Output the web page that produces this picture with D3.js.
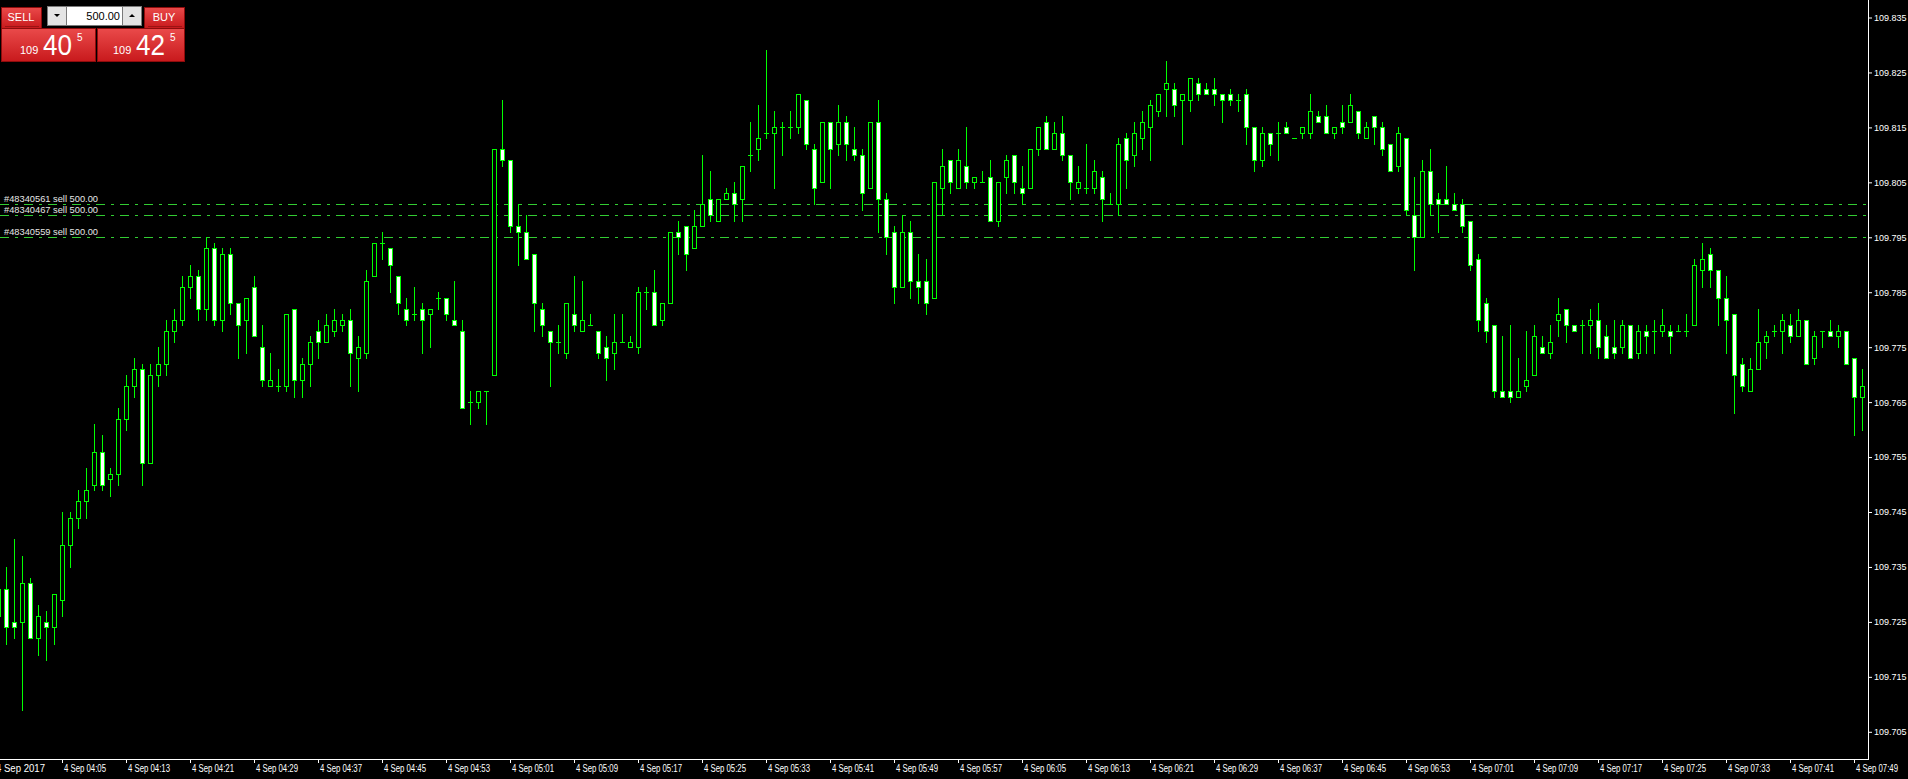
<!DOCTYPE html>
<html>
<head>
<meta charset="utf-8">
<script src="https://cdn.jsdelivr.net/npm/d3@7"></script>
<style>
  html, body { margin: 0; padding: 0; background: #000; overflow: hidden; }
  svg { display: block; }
  text { font-family: "Liberation Sans", Arial, sans-serif; }
</style>
</head>
<body>
<svg id="chart" width="1908" height="779"></svg>
<script>
// USDJPY M1, 4 Sep 2017, first bar 03:57
var opens = [
  109.726,109.731,109.725,109.725,109.732,109.722,109.725,109.724,109.729,109.739,
  109.744,109.747,109.750,109.756,109.751,109.752,109.762,109.768,109.771,109.754,
  109.770,109.772,109.778,109.780,109.786,109.788,109.782,109.793,109.780,109.792,
  109.783,109.780,109.786,109.775,109.768,109.768,109.768,109.782,109.769,109.772,
  109.778,109.776,109.778,109.779,109.780,109.773,109.774,109.788,109.794,109.793,
  109.788,109.782,109.781,109.782,109.781,109.784,109.784,109.780,109.778,109.765,
  109.765,109.767,109.770,109.811,109.809,109.797,109.796,109.792,109.782,109.778,
  109.776,109.774,109.781,109.778,109.779,109.778,109.775,109.774,109.776,109.775,
  109.775,109.785,109.785,109.780,109.783,109.796,109.797,109.793,109.797,109.802,
  109.798,109.802,109.803,109.802,109.810,109.811,109.814,109.814,109.815,109.815,
  109.815,109.820,109.811,109.805,109.816,109.812,109.816,109.811,109.810,109.804,
  109.816,109.802,109.796,109.786,109.796,109.787,109.787,109.784,109.804,109.809,
  109.804,109.808,109.805,109.805,109.806,109.798,109.806,109.810,109.804,109.804,
  109.811,109.816,109.811,109.814,109.810,109.804,109.804,109.804,109.806,109.801,
  109.801,109.813,109.810,109.813,109.815,109.818,109.822,109.822,109.820,109.820,
  109.823,109.822,109.822,109.821,109.821,109.820,109.821,109.815,109.809,109.814,
  109.814,109.815,109.813,109.814,109.814,109.817,109.817,109.814,109.816,109.816,
  109.818,109.813,109.817,109.815,109.812,109.808,109.813,109.799,109.795,109.807,
  109.802,109.802,109.801,109.801,109.798,109.791,109.783,109.779,109.767,109.767,
  109.766,109.768,109.770,109.775,109.774,109.780,109.782,109.779,109.779,109.779,
  109.780,109.777,109.775,109.775,109.779,109.774,109.778,109.778,109.778,109.778,
  109.778,109.778,109.779,109.789,109.792,109.789,109.784,109.781,109.772,109.767,
  109.771,109.776,109.778,109.778,109.779,109.777,109.780,109.773,109.778,109.778,
  109.777,109.778,109.773,109.766
];
var highs = [
  109.733,109.735,109.740,109.737,109.733,109.728,109.727,109.730,109.745,109.745,
  109.749,109.753,109.761,109.759,109.753,109.764,109.770,109.773,109.772,109.772,
  109.775,109.780,109.782,109.788,109.790,109.789,109.795,109.794,109.793,109.793,
  109.783,109.784,109.788,109.779,109.774,109.771,109.781,109.782,109.773,109.777,
  109.780,109.781,109.782,109.781,109.782,109.777,109.789,109.794,109.796,109.793,
  109.788,109.784,109.786,109.783,109.782,109.785,109.784,109.787,109.780,109.767,
  109.767,109.767,109.811,109.820,109.809,109.801,109.799,109.792,109.783,109.778,
  109.779,109.783,109.788,109.787,109.781,109.778,109.777,109.781,109.781,109.777,
  109.786,109.786,109.789,109.783,109.796,109.798,109.797,109.800,109.810,109.807,
  109.802,109.804,109.805,109.808,109.816,109.819,109.829,109.818,109.816,109.818,
  109.821,109.820,109.812,109.816,109.816,109.819,109.817,109.815,109.811,109.816,
  109.820,109.803,109.797,109.799,109.798,109.792,109.791,109.805,109.811,109.809,
  109.811,109.815,109.806,109.807,109.809,109.805,109.810,109.810,109.808,109.811,
  109.815,109.817,109.816,109.817,109.810,109.808,109.812,109.809,109.807,109.803,
  109.813,109.814,109.816,109.818,109.820,109.821,109.827,109.823,109.821,109.824,
  109.824,109.823,109.824,109.821,109.822,109.821,109.822,109.815,109.815,109.814,
  109.816,109.816,109.813,109.815,109.821,109.818,109.819,109.815,109.819,109.821,
  109.818,109.816,109.817,109.816,109.812,109.815,109.813,109.806,109.809,109.811,
  109.803,109.808,109.803,109.802,109.798,109.792,109.784,109.779,109.777,109.779,
  109.773,109.778,109.779,109.777,109.779,109.784,109.782,109.779,109.780,109.782,
  109.783,109.779,109.780,109.780,109.779,109.779,109.779,109.780,109.782,109.779,
  109.779,109.781,109.791,109.794,109.793,109.789,109.788,109.781,109.773,109.773,
  109.782,109.778,109.779,109.781,109.781,109.782,109.780,109.778,109.778,109.780,
  109.779,109.778,109.773,109.771
];
var lows = [
  109.724,109.721,109.722,109.709,109.722,109.719,109.718,109.721,109.726,109.735,
  109.742,109.744,109.749,109.749,109.748,109.750,109.760,109.766,109.750,109.754,
  109.768,109.770,109.776,109.779,109.784,109.780,109.780,109.779,109.778,109.781,
  109.773,109.774,109.777,109.768,109.768,109.767,109.767,109.766,109.766,109.768,
  109.773,109.776,109.777,109.778,109.768,109.767,109.773,109.788,109.791,109.785,
  109.781,109.779,109.780,109.774,109.775,109.782,109.780,109.779,109.764,109.761,
  109.764,109.761,109.770,109.808,109.796,109.790,109.791,109.778,109.777,109.768,
  109.774,109.773,109.778,109.778,109.779,109.773,109.769,109.771,109.776,109.775,
  109.774,109.782,109.779,109.779,109.783,109.792,109.789,109.793,109.797,109.798,
  109.798,109.802,109.798,109.798,109.807,109.809,109.813,109.804,109.810,109.813,
  109.814,109.811,109.801,109.805,109.804,109.810,109.809,109.809,109.800,109.804,
  109.796,109.792,109.783,109.786,109.784,109.783,109.781,109.784,109.799,109.803,
  109.804,109.804,109.804,109.805,109.798,109.797,109.803,109.803,109.801,109.804,
  109.810,109.811,109.811,109.809,109.802,109.803,109.803,109.803,109.798,109.801,
  109.799,109.804,109.808,109.811,109.809,109.817,109.817,109.817,109.812,109.818,
  109.820,109.821,109.819,109.816,109.819,109.818,109.812,109.807,109.808,109.810,
  109.809,109.814,109.813,109.813,109.813,109.816,109.814,109.813,109.814,109.816,
  109.813,109.813,109.812,109.810,109.807,109.807,109.799,109.789,109.795,109.799,
  109.796,109.801,109.800,109.796,109.789,109.778,109.776,109.766,109.766,109.765,
  109.766,109.767,109.770,109.774,109.773,109.777,109.776,109.778,109.774,109.774,
  109.773,109.773,109.773,109.774,109.773,109.773,109.774,109.774,109.777,109.774,
  109.778,109.777,109.779,109.786,109.786,109.779,109.774,109.763,109.767,109.767,
  109.771,109.773,109.777,109.774,109.776,109.777,109.772,109.772,109.775,109.777,
  109.775,109.772,109.759,109.760
];
var closes = [
  109.731,109.724,109.724,109.732,109.722,109.726,109.724,109.730,109.739,109.744,
  109.747,109.749,109.756,109.750,109.752,109.762,109.768,109.771,109.754,109.770,
  109.772,109.778,109.780,109.786,109.788,109.782,109.793,109.780,109.792,109.783,
  109.779,109.784,109.777,109.769,109.769,109.768,109.781,109.769,109.772,109.776,
  109.776,109.779,109.780,109.780,109.774,109.775,109.787,109.794,109.794,109.790,
  109.783,109.780,109.781,109.780,109.782,109.784,109.781,109.779,109.764,109.765,
  109.767,109.767,109.811,109.809,109.797,109.796,109.791,109.783,109.779,109.776,
  109.776,109.783,109.779,109.780,109.779,109.774,109.773,109.776,109.776,109.776,
  109.785,109.785,109.779,109.783,109.796,109.795,109.792,109.797,109.801,109.799,
  109.802,109.803,109.801,109.808,109.810,109.813,109.814,109.815,109.815,109.815,
  109.821,109.812,109.804,109.816,109.811,109.816,109.812,109.810,109.803,109.816,
  109.802,109.795,109.786,109.796,109.787,109.786,109.783,109.805,109.808,109.805,
  109.809,109.805,109.806,109.805,109.798,109.805,109.809,109.805,109.803,109.811,
  109.815,109.811,109.814,109.810,109.805,109.805,109.804,109.807,109.802,109.801,
  109.812,109.809,109.814,109.816,109.819,109.821,109.823,109.819,109.821,109.824,
  109.821,109.821,109.821,109.820,109.820,109.820,109.815,109.809,109.814,109.812,
  109.814,109.814,109.813,109.815,109.818,109.816,109.814,109.815,109.815,109.819,
  109.814,109.815,109.815,109.811,109.807,109.814,109.800,109.795,109.807,109.801,
  109.801,109.801,109.800,109.797,109.790,109.780,109.778,109.767,109.766,109.766,
  109.767,109.769,109.777,109.774,109.776,109.781,109.779,109.778,109.779,109.780,
  109.775,109.773,109.774,109.779,109.773,109.778,109.777,109.778,109.779,109.777,
  109.778,109.778,109.790,109.791,109.789,109.784,109.780,109.770,109.768,109.771,
  109.776,109.777,109.778,109.780,109.777,109.780,109.772,109.777,109.778,109.777,
  109.778,109.772,109.766,109.768
];

var priceTicks = [109.705,109.715,109.725,109.735,109.745,109.755,109.765,
                  109.775,109.785,109.795,109.805,109.815,109.825,109.835];
var timeLabels = ['04:05','04:13','04:21','04:29','04:37','04:45','04:53','05:01',
  '05:09','05:17','05:25','05:33','05:41','05:49','05:57','06:05','06:13','06:21',
  '06:29','06:37','06:45','06:53','07:01','07:09','07:17','07:25','07:33','07:41','07:49'];
var dateLabel = '4 Sep 2017';

var orderIds = ['#48340561', '#48340467', '#48340559'];
var orderPrices = [109.801, 109.799, 109.795];
var orderLots = ['500.00', '500.00', '500.00'];

var sellBid = ['109', '40', '5'];
var buyAsk = ['109', '42', '5'];
var volume = '500.00';

var width = 1908, height = 779;
var plotRight = 1868, plotBottom = 759;
var green = '#00ff00';

var svg = d3.select('#chart');

var parseT = d3.timeParse('%Y-%m-%d %H:%M');
var t0 = parseT('2017-09-04 03:57');
var bars = opens.map(function(o, i) {
  return { t: d3.timeMinute.offset(t0, i), o: o, h: highs[i], l: lows[i], c: closes[i] };
});

var x = d3.scaleTime()
    .domain([bars[0].t, bars[bars.length - 1].t])
    .range([-2, -2 + 8 * (bars.length - 1)]);
var y = d3.scaleLinear()
    .domain([109.705, 109.835])
    .range([731.8, 17.5]);
function row(p) { return Math.round(y(p)); }

svg.append('rect').attr('width', width).attr('height', height).attr('fill', '#000');

var plot = svg.append('g').attr('class', 'plot');
plot.append('defs').append('clipPath').attr('id', 'clip')
  .append('rect').attr('x', 0).attr('y', 0).attr('width', plotRight).attr('height', plotBottom);
var inner = plot.append('g').attr('clip-path', 'url(#clip)');

// order lines (behind the bars)
var orders = orderIds.map(function(id, i) { return { id: id, p: orderPrices[i], lot: orderLots[i] }; });
inner.selectAll('line.order').data(orders).enter().append('line')
  .attr('class', 'order')
  .attr('x1', 0).attr('x2', plotRight)
  .attr('y1', function(d) { return row(d.p) + 0.5; })
  .attr('y2', function(d) { return row(d.p) + 0.5; })
  .attr('stroke', '#32cd32').attr('stroke-width', 1)
  .attr('stroke-dasharray', '9,6,3,6');
inner.selectAll('text.order').data(orders).enter().append('text')
  .attr('x', 4)
  .attr('y', function(d) { return row(d.p) - 2; })
  .attr('fill', '#e6e6e6')
  .attr('font-size', '9px')
  .attr('textLength', 94).attr('lengthAdjust', 'spacingAndGlyphs')
  .text(function(d) { return d.id + ' sell ' + d.lot; });

// candles
var candle = inner.selectAll('g.candle').data(bars).enter().append('g').attr('class', 'candle');
candle.append('line')
  .attr('x1', function(d) { return x(d.t) + 0.5; })
  .attr('x2', function(d) { return x(d.t) + 0.5; })
  .attr('y1', function(d) { return row(d.h); })
  .attr('y2', function(d) { return row(d.l) + 1; })
  .attr('stroke', green).attr('stroke-width', 1);
candle.filter(function(d) { return row(d.o) !== row(d.c); }).append('rect')
  .attr('x', function(d) { return x(d.t) - 1.5; })
  .attr('y', function(d) { return Math.min(row(d.o), row(d.c)) + 0.5; })
  .attr('width', 4)
  .attr('height', function(d) { return Math.abs(row(d.o) - row(d.c)); })
  .attr('fill', function(d) { return d.c < d.o ? '#fff' : '#000'; })
  .attr('stroke', green).attr('stroke-width', 1);
candle.filter(function(d) { return row(d.o) === row(d.c); }).append('line')
  .attr('x1', function(d) { return x(d.t) - 2; })
  .attr('x2', function(d) { return x(d.t) + 3; })
  .attr('y1', function(d) { return row(d.o) + 0.5; })
  .attr('y2', function(d) { return row(d.o) + 0.5; })
  .attr('stroke', green).attr('stroke-width', 1);

// axes
var yAxis = d3.axisRight(y).tickValues(priceTicks).tickSize(4)
  .tickFormat(d3.format('.3f'));
var gy = svg.append('g').attr('transform', 'translate(' + plotRight + ',0)').call(yAxis);
gy.select('.domain').remove();
gy.selectAll('line').attr('stroke', '#fff');
gy.selectAll('text').attr('fill', '#fff').attr('font-size', '9px').attr('x', 6);

var fmtTick = d3.timeFormat('%-d %b %H:%M');
var tickTimes = timeLabels.map(function(s) { return parseT('2017-09-04 ' + s); });
var xAxis = d3.axisBottom(x).tickValues(tickTimes).tickSize(4).tickFormat(fmtTick);
var gx = svg.append('g').attr('transform', 'translate(0,' + plotBottom + ')').call(xAxis);
gx.select('.domain').remove();
gx.selectAll('line').attr('stroke', '#fff');
gx.selectAll('text').attr('fill', '#fff').attr('font-size', '10px')
  .attr('text-anchor', 'start').attr('x', 1.5).attr('y', 13).attr('dy', 0)
  .attr('textLength', 42).attr('lengthAdjust', 'spacingAndGlyphs');
svg.append('text').attr('x', 45).attr('y', plotBottom + 13)
  .attr('text-anchor', 'end').attr('fill', '#fff').attr('font-size', '10px')
  .attr('textLength', 49).attr('lengthAdjust', 'spacingAndGlyphs')
  .text(dateLabel);

svg.append('line').attr('x1', plotRight + 0.5).attr('x2', plotRight + 0.5)
  .attr('y1', 0).attr('y2', plotBottom + 1).attr('stroke', '#fff');
svg.append('line').attr('x1', 0).attr('x2', plotRight + 1)
  .attr('y1', plotBottom + 0.5).attr('y2', plotBottom + 0.5).attr('stroke', '#fff');

// one click trading panel
var defs = svg.append('defs');
var grad = defs.append('linearGradient').attr('id', 'red').attr('x1', 0).attr('x2', 0).attr('y1', 0).attr('y2', 1);
grad.append('stop').attr('offset', '0%').attr('stop-color', '#ea4a4a');
grad.append('stop').attr('offset', '100%').attr('stop-color', '#c8191c');

var panel = svg.append('g').attr('class', 'panel');
function redBox(x0, y0, w, h) {
  panel.append('rect').attr('x', x0 + 0.5).attr('y', y0 + 0.5).attr('width', w - 1).attr('height', h - 1)
    .attr('fill', 'url(#red)').attr('stroke', '#8e0c0c');
}
redBox(1, 7, 41, 22);
redBox(144, 7, 41, 22);
redBox(1, 28, 95, 34);
redBox(97, 28, 88, 34);
[[5, 39], [148, 182]].forEach(function(s) {
  panel.append('line').attr('x1', s[0]).attr('x2', s[1]).attr('y1', 26.5).attr('y2', 26.5)
    .attr('stroke', '#9c1414');
});
panel.append('text').attr('x', 21).attr('y', 21).attr('text-anchor', 'middle')
  .attr('fill', '#fff').attr('font-size', '11px').text('SELL');
panel.append('text').attr('x', 164).attr('y', 21).attr('text-anchor', 'middle')
  .attr('fill', '#fff').attr('font-size', '11px').text('BUY');

// volume spinner
panel.append('rect').attr('x', 47.5).attr('y', 6.5).attr('width', 94).attr('height', 19)
  .attr('fill', '#fff').attr('stroke', '#7a7a7a');
[47.5, 122.5].forEach(function(bx) {
  panel.append('rect').attr('x', bx).attr('y', 6.5).attr('width', 19).attr('height', 19)
    .attr('fill', '#e4e4e4').attr('stroke', '#7a7a7a');
});
panel.append('path').attr('d', 'M54,14 L60,14 L57,17 Z').attr('fill', '#000');
panel.append('path').attr('d', 'M129,17 L135,17 L132,14 Z').attr('fill', '#000');
panel.append('text').attr('x', 120).attr('y', 20).attr('text-anchor', 'end')
  .attr('fill', '#000').attr('font-size', '11px').text(volume);

function quote(q, x0) {
  panel.append('text').attr('x', x0).attr('y', 54).attr('fill', '#fff')
    .attr('font-size', '11px').text(q[0]);
  panel.append('text').attr('x', x0 + 23).attr('y', 55).attr('fill', '#fff')
    .attr('font-size', '29px').attr('textLength', 29).attr('lengthAdjust', 'spacingAndGlyphs').text(q[1]);
  panel.append('text').attr('x', x0 + 57).attr('y', 41).attr('fill', '#fff')
    .attr('font-size', '10px').text(q[2]);
}
quote(sellBid, 20);
quote(buyAsk, 113);
</script>
</body>
</html>
